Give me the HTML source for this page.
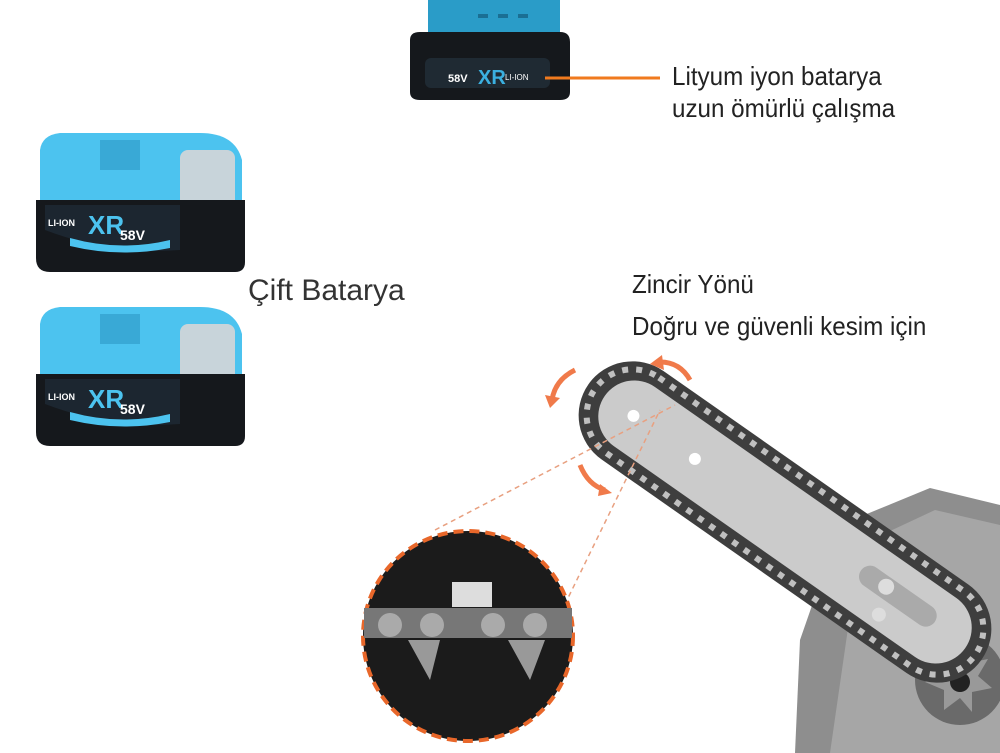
<!DOCTYPE html>
<html><head><meta charset="utf-8"><style>
html,body{margin:0;padding:0;background:#fff}
body{width:1000px;height:753px;position:relative;overflow:hidden;font-family:"Liberation Sans",sans-serif}
.t{position:absolute;color:#222;font-size:26px;line-height:32px;white-space:nowrap;transform-origin:0 0;transform:scaleX(0.93)}
</style></head><body>
<svg width="1000" height="753" style="position:absolute;left:0;top:0">
<path d="M428 0 H560 V45 H428 Z" fill="#2a9cc8"/>
<rect x="478" y="14" width="10" height="4" fill="#1a6f94"/><rect x="498" y="14" width="10" height="4" fill="#1a6f94"/><rect x="518" y="14" width="10" height="4" fill="#1a6f94"/>
<path d="M410 40 Q410 32 420 32 H560 Q570 32 570 42 V92 Q570 100 560 100 H420 Q410 100 410 92 Z" fill="#15181c"/>
<rect x="425" y="58" width="125" height="30" rx="6" fill="#1f2a33"/>
<text x="448" y="82" font-weight="bold" font-size="11" fill="#fff">58V</text>
<text x="478" y="84" font-weight="bold" font-size="20" fill="#3bb0e0">XR</text>
<text x="505" y="80" font-size="8" fill="#fff">LI-ION</text>
<line x1="545" y1="78" x2="660" y2="78" stroke="#f07a1e" stroke-width="3"/>
<g id="b">
<path d="M40 150 Q42 135 60 133 L200 133 Q235 133 242 160 L242 230 L40 230 Z" fill="#4cc3ef"/>
<rect x="180" y="150" width="55" height="60" rx="8" fill="#c8d4da"/>
<rect x="100" y="140" width="40" height="30" fill="#39a9d6"/>
<path d="M36 200 H245 V262 Q245 272 235 272 H50 Q36 272 36 258 Z" fill="#15181c"/>
<path d="M45 205 H180 V250 Q110 255 45 230 Z" fill="#1c2630"/>
<text x="48" y="226" font-weight="bold" font-size="9" fill="#fff">LI-ION</text>
<text x="88" y="234" font-weight="bold" font-size="26" fill="#4cc3ef">XR</text>
<text x="120" y="240" font-weight="bold" font-size="14" fill="#fff">58V</text>
<path d="M70 238 Q120 252 170 240 L170 248 Q120 258 70 246Z" fill="#4cc3ef"/>
</g>
<use href="#b" transform="translate(0,174)"/>
<path d="M840 525 L930 488 L1000 505 V753 H795 L800 640 Z" fill="#8e8e8e"/>
<path d="M860 545 L935 510 L1000 525 V753 H830 Z" fill="#a6a6a6"/>
<circle cx="960" cy="680" r="45" fill="#6a6a6a"/>
<path d="M960 645 l8 18 20 -4 -10 17 14 12 -20 4 0 20 -12 -14 -16 12 0 -20 -19 -8 18 -10 -6 -19 z" fill="#999"/>
<circle cx="960" cy="682" r="10" fill="#222"/>
<g transform="translate(785,522) rotate(35)">
<rect x="-240" y="-54" width="480" height="108" rx="54" fill="#3e3e3e"/>
<rect x="-232" y="-46" width="464" height="92" rx="46" fill="none" stroke="#c0c0c0" stroke-width="6" stroke-dasharray="6 8"/>
<rect x="-220" y="-36" width="440" height="72" rx="36" fill="#cbcbcb"/>
<circle cx="-185" cy="0" r="6" fill="#fff"/><circle cx="-110" cy="0" r="6" fill="#fff"/>
<rect x="90" y="-15" width="90" height="22" rx="11" fill="#aaa"/><circle cx="120" cy="-5" r="8" fill="#ddd"/><circle cx="130" cy="22" r="7" fill="#ddd"/>
</g>
<path d="M575 370 Q555 380 552 400" stroke="#f07a4a" stroke-width="5" fill="none"/>
<polygon points="545,395 560,398 550,408" fill="#f07a4a"/>
<path d="M690 380 Q680 362 660 362" stroke="#f07a4a" stroke-width="5" fill="none"/>
<polygon points="662,355 650,364 664,370" fill="#f07a4a"/>
<path d="M580 465 Q588 485 605 490" stroke="#f07a4a" stroke-width="5" fill="none"/>
<polygon points="600,484 612,493 598,496" fill="#f07a4a"/>
<line x1="435" y1="530" x2="675" y2="405" stroke="#e8a080" stroke-width="1.5" stroke-dasharray="5 4"/>
<line x1="545" y1="645" x2="660" y2="410" stroke="#e8a080" stroke-width="1.5" stroke-dasharray="5 4"/>
<circle cx="468" cy="636" r="105" fill="#1b1b1b" stroke="#e8672a" stroke-width="4" stroke-dasharray="10 6"/>
<rect x="364" y="608" width="208" height="30" fill="#777"/>
<circle cx="390" cy="625" r="12" fill="#aaa"/><circle cx="432" cy="625" r="12" fill="#aaa"/><circle cx="493" cy="625" r="12" fill="#aaa"/><circle cx="535" cy="625" r="12" fill="#aaa"/>
<rect x="452" y="582" width="40" height="25" fill="#ddd"/>
<path d="M408 640 L440 640 L430 680 Z M508 640 L545 640 L530 680 Z" fill="#999"/>
</svg>
<div class="t" style="left:672px;top:60px">Lityum iyon batarya<br>uzun ömürlü çalışma</div>
<div class="t" style="left:248px;top:275px;font-size:30px;color:#333;transform:none">Çift Batarya</div>
<div class="t" style="left:632px;top:268px">Zincir Yönü</div>
<div class="t" style="left:632px;top:310px">Doğru ve güvenli kesim için</div>
</body></html>
